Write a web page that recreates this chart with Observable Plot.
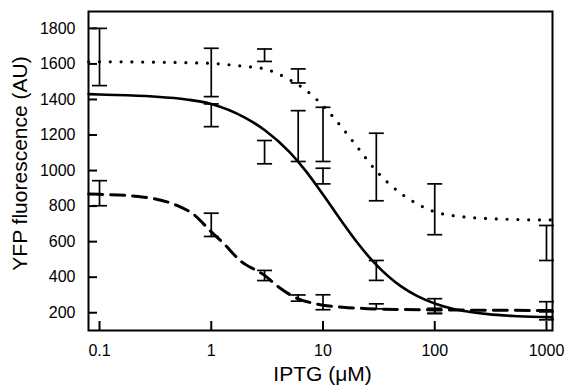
<!DOCTYPE html>
<html><head><meta charset="utf-8">
<script src="https://cdn.jsdelivr.net/npm/d3@7"></script>
<script src="https://cdn.jsdelivr.net/npm/@observablehq/plot@0.6"></script>
<style>body{margin:0;background:#fff;}</style>
</head><body><div id="chart"></div>
<script>
// Axis ticks
const xTicks = [0.1, 1, 10, 100, 1000];
const yTicks = [200, 400, 600, 800, 1000, 1200, 1400, 1600, 1800];

// Fitted curves
const dottedCurveX = [0.08, 0.1, 0.3, 0.6, 1, 2, 3, 5, 7, 10, 15, 20, 30, 50, 70, 100, 150, 200, 300, 500, 1000, 1130];
const dottedCurveY = [1612, 1612, 1610, 1607, 1603, 1586, 1572, 1512, 1453, 1365, 1237, 1137, 998, 870, 812, 768, 745, 737, 730, 725, 722, 722];

const solidCurveX = [0.08, 0.1, 0.3, 0.6, 1, 2, 3, 5, 7, 10, 15, 20, 30, 50, 70, 100, 150, 200, 300, 500, 1000, 1130];
const solidCurveY = [1430, 1428, 1417, 1400, 1375, 1298, 1228, 1105, 998, 865, 706, 599, 469, 348, 293, 252, 220, 206, 192, 182, 175, 174];

const dashedCurveX = [0.08, 0.1, 0.2, 0.3, 0.5, 0.7, 1, 1.3, 1.8, 3, 4, 6, 8, 10, 15, 25, 50, 100, 300, 1000, 1130];
const dashedCurveY = [868, 866, 857, 843, 802, 752, 655, 588, 495, 410, 345, 278, 255, 242, 231, 223, 218, 216, 214, 213, 213];

// Error bars
const dottedErrX = [0.1, 1, 3, 6, 10, 30, 100, 1000];
const dottedErrLo = [1478, 1416, 1614, 1493, 1051, 830, 639, 494];
const dottedErrHi = [1800, 1688, 1684, 1572, 1356, 1210, 925, 691];

const solidErrX = [1, 3, 6, 10, 30, 100, 1000];
const solidErrLo = [1247, 1038, 1051, 925, 382, 197, 160];
const solidErrHi = [1375, 1169, 1337, 1013, 494, 279, 205];

const dashedErrX = [0.1, 1, 3, 6, 10, 30, 100, 1000];
const dashedErrLo = [802, 629, 381, 265, 217, 222, 195, 208];
const dashedErrHi = [943, 760, 438, 300, 301, 250, 225, 262];

const toPts = (xs, ys) => xs.map((x, i) => ({x, y: ys[i]}));
const toErr = (xs, lo, hi) => xs.map((x, i) => ({x, lo: lo[i], hi: hi[i]}));
const errors = [
  ...toErr(dottedErrX, dottedErrLo, dottedErrHi),
  ...toErr(solidErrX, solidErrLo, solidErrHi),
  ...toErr(dashedErrX, dashedErrLo, dashedErrHi)
];
const caps = errors.flatMap(d => [{x: d.x, y: d.lo}, {x: d.x, y: d.hi}]);

const capSymbol = {draw(ctx, size) { const r = Math.sqrt(size / Math.PI); ctx.moveTo(-r, 0); ctx.lineTo(r, 0); }};
const font = "'Liberation Sans', Arial, Helvetica, sans-serif";

const chart = Plot.plot({
  width: 566, height: 387,
  marginLeft: 88, marginRight: 14, marginTop: 11, marginBottom: 57,
  style: {fontFamily: font, background: "#fff", color: "#000"},
  x: {type: "log", domain: [0.0797, 1132]},
  y: {domain: [100, 1895]},
  marks: [
    Plot.ruleX(errors, {x: "x", y1: "lo", y2: "hi", stroke: "#000", strokeWidth: 1.7}),
    Plot.dot(caps, {x: "x", y: "y", symbol: capSymbol, r: 7.5, stroke: "#000", strokeWidth: 1.7, fill: "none"}),
    Plot.line(toPts(dottedCurveX, dottedCurveY), {x: "x", y: "y", curve: "monotone-x", stroke: "#000", strokeWidth: 3.2, strokeDasharray: "0,10.8", strokeLinecap: "round"}),
    Plot.line(toPts(solidCurveX, solidCurveY), {x: "x", y: "y", curve: "monotone-x", stroke: "#000", strokeWidth: 2.6}),
    Plot.line(toPts(dashedCurveX, dashedCurveY), {x: "x", y: "y", curve: "monotone-x", stroke: "#000", strokeWidth: 3, strokeDasharray: "14,8"}),
    Plot.axisX(xTicks, {tickSize: -9, tickPadding: 23, tickFormat: d => String(d), fontSize: 16, strokeWidth: 2, label: null}),
    Plot.axisY(yTicks, {tickSize: -9, tickPadding: 22, tickFormat: d => String(d), fontSize: 16, strokeWidth: 2, label: null}),
    Plot.frame({stroke: "#000", strokeWidth: 2}),
    Plot.text(["IPTG (μM)"], {frameAnchor: "bottom", dy: 36, dx: 2, lineAnchor: "top", textAnchor: "middle", fontSize: 21, fill: "#000"}),
    Plot.text(["YFP fluorescence (AU)"], {frameAnchor: "left", rotate: -90, dx: -68, dy: -7.5, textAnchor: "middle", lineAnchor: "middle", fontSize: 21, fill: "#000"})
  ]
});
document.getElementById("chart").appendChild(chart);
</script>
</body></html>
